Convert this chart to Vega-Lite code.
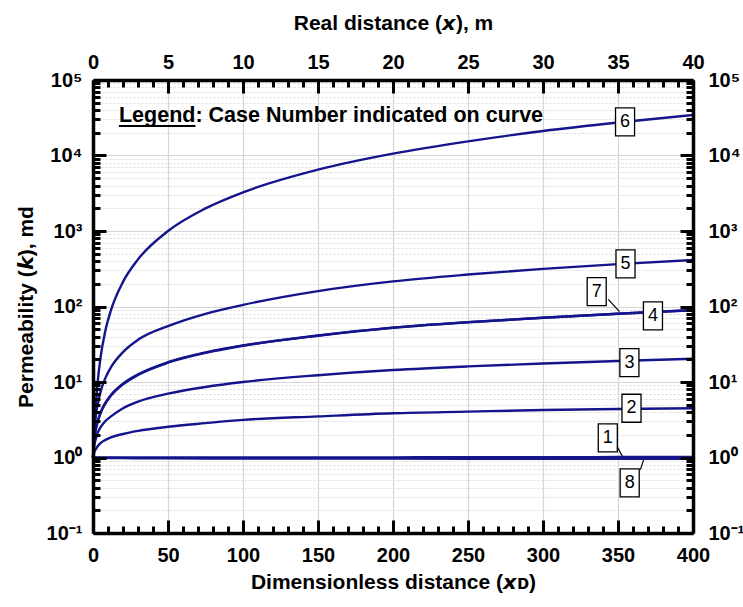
{
  "$schema": "https://vega.github.io/schema/vega-lite/v6.json",
  "width": 600,
  "height": 453,
  "autosize": {"type": "none"},
  "padding": {"left": 93, "top": 80, "right": 50, "bottom": 74},
  "background": "white",
  "config": {
    "view": {"stroke": null},
    "font": "Liberation Sans",
    "axis": {"labelFont": "Liberation Sans", "titleFont": "Liberation Sans", "labelColor": "black", "titleColor": "black", "domainColor": "black", "tickColor": "black"}
  },
  "datasets": {
    "curves": [
      {"case":"1","x":0,"k":1},{"case":"1","x":1,"k":1},{"case":"1","x":2,"k":1},{"case":"1","x":3,"k":1},{"case":"1","x":5,"k":1},{"case":"1","x":8,"k":1},{"case":"1","x":12,"k":1},{"case":"1","x":20,"k":1},{"case":"1","x":30,"k":1},{"case":"1","x":50,"k":1},{"case":"1","x":75,"k":1},{"case":"1","x":100,"k":1},{"case":"1","x":150,"k":1},{"case":"1","x":200,"k":1.005},{"case":"1","x":250,"k":1.01},{"case":"1","x":300,"k":1.01},{"case":"1","x":350,"k":1.015},{"case":"1","x":400,"k":1.02},
      {"case":"8","x":0,"k":1},{"case":"8","x":1,"k":0.995},{"case":"8","x":2,"k":0.993},{"case":"8","x":3,"k":0.99},{"case":"8","x":5,"k":0.988},{"case":"8","x":8,"k":0.985},{"case":"8","x":12,"k":0.983},{"case":"8","x":20,"k":0.98},{"case":"8","x":30,"k":0.978},{"case":"8","x":50,"k":0.975},{"case":"8","x":75,"k":0.972},{"case":"8","x":100,"k":0.97},{"case":"8","x":150,"k":0.968},{"case":"8","x":200,"k":0.965},{"case":"8","x":250,"k":0.963},{"case":"8","x":300,"k":0.962},{"case":"8","x":350,"k":0.961},{"case":"8","x":400,"k":0.96},
      {"case":"2","x":0,"k":1},{"case":"2","x":1,"k":1.2},{"case":"2","x":2,"k":1.3},{"case":"2","x":3,"k":1.4},{"case":"2","x":5,"k":1.55},{"case":"2","x":8,"k":1.7},{"case":"2","x":12,"k":1.85},{"case":"2","x":20,"k":2.05},{"case":"2","x":30,"k":2.25},{"case":"2","x":50,"k":2.55},{"case":"2","x":75,"k":2.85},{"case":"2","x":100,"k":3.15},{"case":"2","x":150,"k":3.5},{"case":"2","x":200,"k":3.85},{"case":"2","x":250,"k":4.05},{"case":"2","x":300,"k":4.25},{"case":"2","x":350,"k":4.38},{"case":"2","x":400,"k":4.5},
      {"case":"3","x":0,"k":1},{"case":"3","x":1,"k":1.5},{"case":"3","x":2,"k":1.8},{"case":"3","x":3,"k":2.1},{"case":"3","x":5,"k":2.5},{"case":"3","x":8,"k":3.0},{"case":"3","x":12,"k":3.5},{"case":"3","x":20,"k":4.5},{"case":"3","x":30,"k":5.5},{"case":"3","x":50,"k":7.0},{"case":"3","x":75,"k":8.6},{"case":"3","x":100,"k":10.0},{"case":"3","x":150,"k":12.3},{"case":"3","x":200,"k":14.4},{"case":"3","x":250,"k":16.1},{"case":"3","x":300,"k":17.6},{"case":"3","x":350,"k":19.0},{"case":"3","x":400,"k":20.3},
      {"case":"4","x":0,"k":1},{"case":"4","x":1,"k":1.85},{"case":"4","x":2,"k":2.45},{"case":"4","x":3,"k":2.98},{"case":"4","x":5,"k":3.93},{"case":"4","x":8,"k":5.2},{"case":"4","x":12,"k":6.75},{"case":"4","x":20,"k":9.5},{"case":"4","x":30,"k":12.6},{"case":"4","x":50,"k":18.3},{"case":"4","x":75,"k":24.6},{"case":"4","x":100,"k":30.5},{"case":"4","x":150,"k":41.3},{"case":"4","x":200,"k":52.5},{"case":"4","x":250,"k":62},{"case":"4","x":300,"k":71},{"case":"4","x":350,"k":80},{"case":"4","x":400,"k":89},
      {"case":"7","x":0,"k":1},{"case":"7","x":1,"k":1.8},{"case":"7","x":2,"k":2.4},{"case":"7","x":3,"k":2.9},{"case":"7","x":5,"k":3.85},{"case":"7","x":8,"k":5.1},{"case":"7","x":12,"k":6.6},{"case":"7","x":20,"k":9.3},{"case":"7","x":30,"k":12.4},{"case":"7","x":50,"k":18.0},{"case":"7","x":75,"k":24.3},{"case":"7","x":100,"k":30.2},{"case":"7","x":150,"k":41},{"case":"7","x":200,"k":52.2},{"case":"7","x":250,"k":61.8},{"case":"7","x":300,"k":71},{"case":"7","x":350,"k":80.3},{"case":"7","x":400,"k":90},
      {"case":"5","x":0,"k":1},{"case":"5","x":1,"k":2.4},{"case":"5","x":2,"k":3.7},{"case":"5","x":3,"k":4.9},{"case":"5","x":5,"k":7.4},{"case":"5","x":8,"k":11.0},{"case":"5","x":12,"k":15.7},{"case":"5","x":20,"k":24.9},{"case":"5","x":30,"k":36.2},{"case":"5","x":50,"k":55},{"case":"5","x":75,"k":80},{"case":"5","x":100,"k":105},{"case":"5","x":150,"k":160},{"case":"5","x":200,"k":215},{"case":"5","x":250,"k":265},{"case":"5","x":300,"k":315},{"case":"5","x":350,"k":364},{"case":"5","x":400,"k":413},
      {"case":"6","x":0,"k":1},{"case":"6","x":1,"k":2.3},{"case":"6","x":2,"k":5.2},{"case":"6","x":3,"k":9.4},{"case":"6","x":5,"k":20.9},{"case":"6","x":8,"k":45.4},{"case":"6","x":12,"k":89.5},{"case":"6","x":20,"k":212},{"case":"6","x":30,"k":421},{"case":"6","x":50,"k":999},{"case":"6","x":75,"k":1993},{"case":"6","x":100,"k":3251},{"case":"6","x":150,"k":6493},{"case":"6","x":200,"k":10570},{"case":"6","x":250,"k":15390},{"case":"6","x":300,"k":21090},{"case":"6","x":350,"k":27340},{"case":"6","x":400,"k":34320}
    ],
    "labels": [
      {"case":"6","x":354.7,"k":27800},
      {"case":"5","x":355,"k":366},
      {"case":"7","x":335.8,"k":157},
      {"case":"4","x":373.3,"k":75},
      {"case":"3","x":357.6,"k":18.1},
      {"case":"2","x":359,"k":4.49},
      {"case":"1","x":343.2,"k":1.82},
      {"case":"8","x":357.8,"k":0.46}
    ],
    "leaders": [
      {"case":"7","x":343.5,"k":124.5,"x2":351,"k2":85.3},
      {"case":"1","x":349.5,"k":1.39,"x2":353.1,"k2":1.02},
      {"case":"8","x":364.9,"k":0.69,"x2":367.3,"k2":0.96}
    ],
    "notes": [
      {"text":"Legend: Case Number indicated on curve","x":17.3,"k":28100}
    ],
    "underline": [
      {"x":17.3,"x2":68.3,"k":24600}
    ]
  },
  "resolve": {"axis": {"x": "independent", "y": "independent"}},
  "layer": [
    {
      "data": {"name": "leaders"},
      "mark": {"type": "rule", "color": "black", "strokeWidth": 1.2},
      "encoding": {
        "x": {"field": "x", "type": "quantitative", "scale": {"domain": [0, 400], "nice": false, "zero": false},
          "axis": {"orient": "bottom", "values": [50,100,150,200,250,300,350], "grid": true, "gridColor": "#d6d6d6", "gridWidth": 1.2, "ticks": false, "labels": false, "domain": false, "title": null, "zindex": 0}},
        "x2": {"field": "x2"},
        "y": {"field": "k", "type": "quantitative", "scale": {"type": "log", "domain": [0.1, 100000], "nice": false},
          "axis": {"orient": "left", "values": [0.2,0.3,0.4,0.5,0.6,0.7,0.8,0.9,1,2,3,4,5,6,7,8,9,10,20,30,40,50,60,70,80,90,100,200,300,400,500,600,700,800,900,1000,2000,3000,4000,5000,6000,7000,8000,9000,10000,20000,30000,40000,50000,60000,70000,80000,90000],
            "grid": true,
            "gridColor": {"condition": {"test": "indexof([1,10,100,1000,10000], datum.value) >= 0", "value": "#d6d6d6"}, "value": "#dcdcdc"},
            "gridDash": {"condition": {"test": "indexof([1,10,100,1000,10000], datum.value) >= 0", "value": []}, "value": [2, 2]},
            "gridWidth": 1.2,
            "ticks": false, "labels": false, "domain": false, "title": null, "zindex": 0}},
        "y2": {"field": "k2"}
      }
    },
    {
      "data": {"name": "curves"},
      "mark": {"type": "line", "color": "#14148c", "strokeWidth": 2.4, "interpolate": "monotone"},
      "encoding": {
        "x": {"field": "x", "type": "quantitative", "scale": {"domain": [0, 400], "nice": false, "zero": false},
          "axis": {"orient": "bottom", "values": [0,50,100,150,200,250,300,350,400], "title": "Dimensionless distance (𝙭ᴅ)",
            "ticks": false, "domainWidth": 3.5, "grid": false, "zindex": 1,
            "labelFontSize": 20, "labelFontWeight": "bold", "labelPadding": 12, "labelFlush": false, "labelOverlap": false,
            "titleFontSize": 21, "titleFontWeight": "bold", "titlePadding": 6}},
        "y": {"field": "k", "type": "quantitative", "scale": {"type": "log", "domain": [0.1, 100000], "nice": false},
          "axis": {"orient": "left", "values": [0.1,1,10,100,1000,10000,100000],
            "labelExpr": "datum.value < 0.5 ? '10⁻¹' : datum.value < 5 ? '10⁰' : datum.value < 50 ? '10¹' : datum.value < 500 ? '10²' : datum.value < 5000 ? '10³' : datum.value < 50000 ? '10⁴' : '10⁵'",
            "title": "Permeability (𝙠), md",
            "ticks": false, "domainWidth": 3.5, "grid": false, "zindex": 1,
            "labelFontSize": 20, "labelFontWeight": "bold", "labelPadding": 11, "labelAlign": "right", "labelFlush": false, "labelOverlap": false,
            "titleFontSize": 21, "titleFontWeight": "bold", "titlePadding": 10}},
        "detail": {"field": "case"}
      }
    },
    {
      "data": {"name": "labels"},
      "mark": {"type": "point", "shape": "M-0.68,-1H0.68V1H-0.68Z", "size": 784, "filled": true, "fill": "white", "stroke": "black", "strokeWidth": 1.3, "opacity": 1, "fillOpacity": 1},
      "encoding": {
        "x": {"field": "x", "type": "quantitative", "scale": {"domain": [0, 400], "nice": false, "zero": false},
          "axis": {"orient": "top", "values": [0,50,100,150,200,250,300,350,400], "labelExpr": "format(datum.value / 10, 'd')", "title": "Real distance (𝙭), m",
            "ticks": false, "domainWidth": 3.5, "grid": false, "zindex": 1,
            "labelFontSize": 20, "labelFontWeight": "bold", "labelPadding": 8, "labelFlush": false, "labelOverlap": false,
            "titleFontSize": 21, "titleFontWeight": "bold", "titlePadding": 19}},
        "y": {"field": "k", "type": "quantitative", "scale": {"type": "log", "domain": [0.1, 100000], "nice": false},
          "axis": {"orient": "right", "values": [0.1,1,10,100,1000,10000,100000],
            "labelExpr": "datum.value < 0.5 ? '10⁻¹' : datum.value < 5 ? '10⁰' : datum.value < 50 ? '10¹' : datum.value < 500 ? '10²' : datum.value < 5000 ? '10³' : datum.value < 50000 ? '10⁴' : '10⁵'",
            "title": null,
            "ticks": false, "domainWidth": 3.5, "grid": false, "zindex": 1,
            "labelFontSize": 20, "labelFontWeight": "bold", "labelPadding": 15, "labelAlign": "left", "labelFlush": false, "labelOverlap": false}}
      }
    },
    {
      "data": {"name": "labels"},
      "mark": {"type": "text", "font": "Liberation Sans", "fontSize": 18, "color": "black", "align": "center", "baseline": "middle"},
      "encoding": {
        "x": {"field": "x", "type": "quantitative", "scale": {"domain": [0, 400], "nice": false, "zero": false},
          "axis": {"orient": "bottom", "values": [0,10,20,30,40,50,60,70,80,90,100,110,120,130,140,150,160,170,180,190,200,210,220,230,240,250,260,270,280,290,300,310,320,330,340,350,360,370,380,390,400],
            "tickSize": {"condition": {"test": "datum.value % 50 === 0", "value": -13}, "value": -7},
            "tickWidth": 3, "domain": false, "labels": false, "grid": false, "title": null, "zindex": 1}},
        "y": {"field": "k", "type": "quantitative", "scale": {"type": "log", "domain": [0.1, 100000], "nice": false},
          "axis": {"orient": "left", "values": [0.1,0.2,0.3,0.4,0.5,0.6,0.7,0.8,0.9,1,2,3,4,5,6,7,8,9,10,20,30,40,50,60,70,80,90,100,200,300,400,500,600,700,800,900,1000,2000,3000,4000,5000,6000,7000,8000,9000,10000,20000,30000,40000,50000,60000,70000,80000,90000,100000],
            "tickSize": {"condition": {"test": "indexof([0.1,1,10,100,1000,10000,100000], datum.value) >= 0", "value": -13}, "value": -7},
            "tickWidth": 3, "domain": false, "labels": false, "grid": false, "title": null, "zindex": 1}},
        "text": {"field": "case"}
      }
    },
    {
      "data": {"name": "notes"},
      "mark": {"type": "text", "font": "Liberation Sans", "fontSize": 21.5, "fontWeight": "bold", "color": "black", "align": "left", "baseline": "alphabetic"},
      "encoding": {
        "x": {"field": "x", "type": "quantitative", "scale": {"domain": [0, 400], "nice": false, "zero": false},
          "axis": {"orient": "top", "values": [0,10,20,30,40,50,60,70,80,90,100,110,120,130,140,150,160,170,180,190,200,210,220,230,240,250,260,270,280,290,300,310,320,330,340,350,360,370,380,390,400],
            "tickSize": {"condition": {"test": "datum.value % 50 === 0", "value": -13}, "value": -7},
            "tickWidth": 3, "domain": false, "labels": false, "grid": false, "title": null, "zindex": 1}},
        "y": {"field": "k", "type": "quantitative", "scale": {"type": "log", "domain": [0.1, 100000], "nice": false},
          "axis": {"orient": "right", "values": [0.1,0.2,0.3,0.4,0.5,0.6,0.7,0.8,0.9,1,2,3,4,5,6,7,8,9,10,20,30,40,50,60,70,80,90,100,200,300,400,500,600,700,800,900,1000,2000,3000,4000,5000,6000,7000,8000,9000,10000,20000,30000,40000,50000,60000,70000,80000,90000,100000],
            "tickSize": {"condition": {"test": "indexof([0.1,1,10,100,1000,10000,100000], datum.value) >= 0", "value": -13}, "value": -7},
            "tickWidth": 3, "domain": false, "labels": false, "grid": false, "title": null, "zindex": 1}},
        "text": {"field": "text"}
      }
    },
    {
      "data": {"name": "underline"},
      "mark": {"type": "rule", "color": "black", "strokeWidth": 2},
      "encoding": {
        "x": {"field": "x", "type": "quantitative", "scale": {"domain": [0, 400], "nice": false, "zero": false}, "axis": null},
        "x2": {"field": "x2"},
        "y": {"field": "k", "type": "quantitative", "scale": {"type": "log", "domain": [0.1, 100000], "nice": false}, "axis": null}
      }
    }
  ]
}
